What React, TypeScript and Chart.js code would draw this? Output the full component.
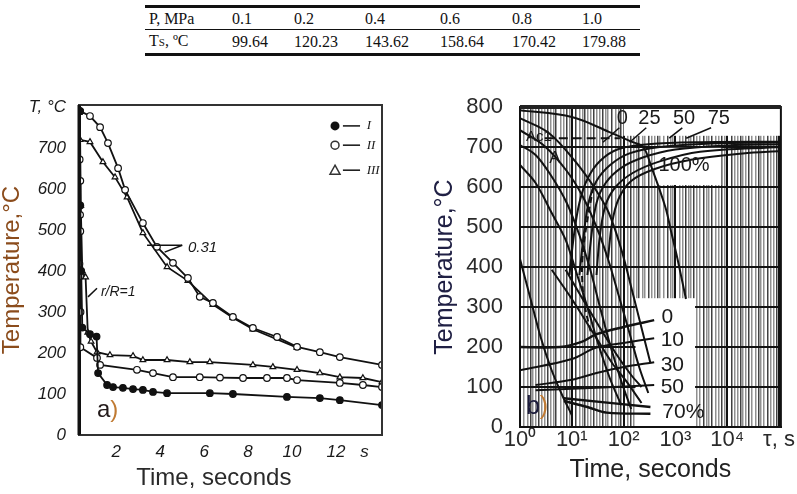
import React, { useEffect, useRef } from "react";
import { Chart, registerables } from "chart.js";
Chart.register(...registerables);

const SANS = "'Liberation Sans', Arial, Helvetica, sans-serif";
const SERIF = "'Liberation Serif', 'Times New Roman', serif";

// ---------------- table ----------------
const pressureLabels = ["0.1", "0.2", "0.4", "0.6", "0.8", "1.0"];
const saturationTemps = ["99.64", "120.23", "143.62", "158.64", "170.42", "179.88"];

// ---------------- chart a) ----------------
const leftYTicks = [0, 100, 200, 300, 400, 500, 600, 700, 800];
const leftYTickLabels = ["0", "100", "200", "300", "400", "500", "600", "700", "T, °C"];
const leftXTicks = [2, 4, 6, 8, 10, 12, 13.3];
const leftXTickLabels = ["2", "4", "6", "8", "10", "12", "s"];

// inner layer r/R = 0.31
const innerII: [number, number][] = [
  [0.35, 790], [0.8, 778], [1.26, 751], [1.62, 712], [2.08, 651], [2.4, 598], [3.21, 517],
  [3.85, 459], [4.58, 420], [5.26, 383], [5.8, 337], [6.4, 322], [7.31, 288], [8.22, 261],
  [9.32, 239], [10.23, 215], [11.27, 202], [12.18, 190], [14.1, 171],
];
const innerIII: [number, number][] = [
  [0.35, 720], [0.8, 715], [1.39, 666], [1.94, 629], [2.49, 580], [3.21, 493], [4.31, 410],
  [5.26, 376], [6.4, 318], [7.31, 286], [8.22, 258], [10.23, 213],
];
// surface r/R = 1
const surfaceI: [number, number][] = [
  [0.33, 790], [0.36, 560], [0.4, 400], [0.45, 262], [0.8, 246], [1.1, 240], [1.17, 151],
  [1.58, 122], [1.85, 117], [2.3, 115], [2.76, 112], [3.21, 110], [3.67, 105], [4.31, 102],
  [6.26, 102], [7.31, 100], [9.77, 93], [11.27, 90], [12.18, 85], [14.1, 73],
];
const surfaceII: [number, number][] = [
  [0.35, 790], [0.33, 672], [0.36, 620], [0.35, 537], [0.36, 497], [0.32, 418], [0.35, 388],
  [0.37, 300], [0.36, 214], [1.12, 188], [1.26, 171], [2.94, 159], [3.67, 151], [4.58, 141],
  [5.8, 141], [6.72, 140], [7.77, 139], [8.86, 139], [9.77, 139], [10.23, 134], [12.18, 127],
  [13.23, 122], [14.1, 117],
];
const surfaceIII: [number, number][] = [
  [0.34, 790], [0.38, 560], [0.45, 400], [0.6, 385], [0.7, 250], [0.85, 228], [1.12, 202],
  [1.71, 195], [2.76, 193], [3.21, 183], [4.31, 183], [5.35, 178], [6.26, 178], [8.22, 171],
  [9.13, 166], [10.23, 159], [11.27, 151], [12.18, 141], [13.23, 139], [14.1, 129],
];

// ---------------- chart b) ----------------
const rightYTicks = [0, 100, 200, 300, 400, 500, 600, 700, 800];
const rightDecades = [1, 10, 100, 1000, 10000];
const rightGridMultipliers = [1, 1.2, 1.4, 1.6, 1.8, 2, 2.3, 2.6, 3, 3.5, 4, 4.5, 5, 6, 7, 8, 9];
const rightXLabelValues = [1, 10, 100, 1000, 10000, 100000];
const rightXLabelTexts = ["10⁰", "10¹", "10²", "10³", "10⁴", "τ, s"];

const cooling1: [number, number][] = [[1, 792], [10, 775], [52, 738], [150, 712], [240, 700], [345, 650], [640, 550], [840, 485], [1100, 420], [1600, 320]];
const cooling2: [number, number][] = [[1, 772], [3.6, 735], [12, 662], [29, 593], [52, 535], [90, 445], [150, 335], [230, 240], [330, 160]];
const cooling3: [number, number][] = [[1, 742], [3, 702], [8, 640], [16, 578], [30, 500], [50, 420], [80, 330], [130, 235], [200, 150], [300, 85]];
const cooling4: [number, number][] = [[1, 705], [2, 680], [4, 628], [8, 560], [14, 480], [22, 400], [35, 300], [55, 205], [90, 115], [140, 45]];
const cooling5: [number, number][] = [[1, 655], [2, 610], [4.1, 535], [7.6, 468], [12, 390], [20, 300], [32, 210], [55, 120], [90, 55]];
const cooling6: [number, number][] = [[1, 420], [1.6, 320], [2.5, 225], [4, 145], [6.5, 80], [10, 30]];
const cooling7: [number, number][] = [[4.1, 393], [10, 320], [29, 225], [60, 160], [109, 117], [222, 60]];
const cooling8: [number, number][] = [[7.6, 393], [20, 300], [70, 185], [140, 130], [222, 100]];

const start0: [number, number][] = [[9, 380], [11, 480], [14, 560], [20, 620], [35, 665], [80, 695], [300, 707], [3000, 712], [110000, 713]];
const start25: [number, number][] = [[14, 380], [17, 480], [21, 560], [30, 615], [55, 655], [130, 684], [500, 700], [5000, 709], [110000, 711]];
const start50: [number, number][] = [[20, 380], [24, 480], [30, 560], [45, 610], [90, 648], [250, 675], [1000, 694], [10000, 704], [110000, 707]];
const start75: [number, number][] = [[30, 380], [35, 480], [45, 555], [70, 600], [150, 635], [500, 664], [3000, 688], [110000, 700]];
const finish100: [number, number][] = [[50, 420], [60, 510], [80, 570], [140, 615], [400, 645], [2000, 668], [20000, 684], [110000, 690]];
const dashedCurve: [number, number][] = [[26, 600], [19, 500], [16, 420], [16, 360], [18, 300], [24, 230]];
const ac1Line: [number, number][] = [[3, 722], [85, 722]];

const mart0: [number, number][] = [[1, 200], [6, 200], [15, 212], [30, 232], [100, 250], [390, 267]];
const mart10: [number, number][] = [[1, 142], [10, 170], [29, 198], [100, 210], [390, 222]];
const mart30: [number, number][] = [[2, 105], [10, 118], [30, 135], [100, 150], [390, 162]];
const mart50: [number, number][] = [[2, 92], [30, 98], [390, 105]];
const mart70a: [number, number][] = [[7, 72], [330, 50]];
const mart70b: [number, number][] = [[7, 65], [20, 50], [47, 36], [330, 33]];

// ---------------- helpers ----------------
const pts = (a: [number, number][]) => a.map(([x, y]) => ({ x, y }));

type Note = { text: string; x: number; y: number; size: number; align?: CanvasTextAlign; italic?: boolean; color?: string; family?: string };
type Seg = [number, number, number, number];
type Box = [number, number, number, number];

function drawNotes(chart: any, notes: Note[]) {
  const { ctx, scales } = chart;
  ctx.save();
  ctx.textBaseline = "middle";
  for (const n of notes) {
    ctx.font = `${n.italic ? "italic " : ""}${n.size}px ${n.family || SANS}`;
    ctx.fillStyle = n.color || "#1a1a1a";
    ctx.textAlign = n.align || "left";
    ctx.fillText(n.text, scales.x.getPixelForValue(n.x), scales.y.getPixelForValue(n.y));
  }
  ctx.restore();
}
function drawSegs(chart: any, segs: Seg[], width: number) {
  const { ctx, scales } = chart;
  ctx.save();
  ctx.strokeStyle = "#111";
  ctx.lineWidth = width;
  for (const [x1, y1, x2, y2] of segs) {
    ctx.beginPath();
    ctx.moveTo(scales.x.getPixelForValue(x1), scales.y.getPixelForValue(y1));
    ctx.lineTo(scales.x.getPixelForValue(x2), scales.y.getPixelForValue(y2));
    ctx.stroke();
  }
  ctx.restore();
}

// annotations for a)
const leftNotes: Note[] = [
  { text: "0.31", x: 5.26, y: 456, size: 15, italic: true },
  { text: "r/R=1", x: 1.3, y: 348, size: 14, italic: true },
  { text: "I", x: 13.4, y: 756, size: 13, italic: true, family: SERIF },
  { text: "II", x: 13.4, y: 707, size: 13, italic: true, family: SERIF },
  { text: "III", x: 13.4, y: 646, size: 13, italic: true, family: SERIF },
];
const leftLeaders: Seg[] = [
  [3.4, 463, 5.0, 463], [4.2, 446, 5.0, 463], [0.71, 337, 1.12, 358],
  [12.32, 754, 13.1, 754], [12.32, 707, 13.1, 707], [12.32, 646, 13.1, 646],
];

// annotations for b)
const rightNotes: Note[] = [
  { text: "Ac1", x: 1.3, y: 726, size: 15 },
  { text: "A", x: 4.7, y: 672, size: 17, align: "center" },
  { text: "0", x: 95, y: 772, size: 20, align: "center" },
  { text: "25", x: 316, y: 772, size: 20, align: "center" },
  { text: "50", x: 1470, y: 772, size: 20, align: "center" },
  { text: "75", x: 6900, y: 772, size: 20, align: "center" },
  { text: "100%", x: 1470, y: 655, size: 20, align: "center" },
  { text: "0", x: 540, y: 275, size: 21 },
  { text: "10", x: 520, y: 218, size: 21 },
  { text: "30", x: 520, y: 155, size: 21 },
  { text: "50", x: 520, y: 100, size: 21 },
  { text: "70%", x: 560, y: 38, size: 21 },
];
const rightLeaders: Seg[] = [
  [83, 748, 40, 712], [274, 748, 131, 712], [1360, 748, 760, 722], [4900, 748, 1620, 722],
];
const rightWhiteBoxes: Box[] = [
  [100, 728, 105000, 798], [400, 605, 7700, 698], [170, 2, 2400, 322],
];

function LeftChart() {
  const ref = useRef<HTMLCanvasElement>(null);
  useEffect(() => {
    const mk = (label: string, data: [number, number][], style: string, fill: string) => ({
      label, data: pts(data), borderColor: "#111", borderWidth: 1.8, pointStyle: style as any,
      pointRadius: 3.3, pointBorderWidth: 1.2, pointBackgroundColor: fill, pointBorderColor: "#111",
      tension: 0, showLine: true,
    });
    const annot = {
      id: "leftAnnot",
      afterDatasetsDraw(chart: any) {
        const { ctx, chartArea: a, scales } = chart;
        ctx.save();
        ctx.strokeStyle = "#333";
        ctx.lineWidth = 2;
        ctx.strokeRect(a.left, a.top, a.right - a.left, a.bottom - a.top);
        ctx.fillStyle = "#111";
        ctx.fillRect(a.left - 1.5, a.top, 3, a.bottom - a.top);
        const lx = scales.x.getPixelForValue(11.96);
        const y1 = scales.y.getPixelForValue(754), y2 = scales.y.getPixelForValue(707), y3 = scales.y.getPixelForValue(646);
        ctx.lineWidth = 1.5;
        ctx.beginPath(); ctx.arc(lx, y1, 4.5, 0, Math.PI * 2); ctx.fillStyle = "#111"; ctx.fill();
        ctx.beginPath(); ctx.arc(lx, y2, 4, 0, Math.PI * 2); ctx.fillStyle = "#fff"; ctx.fill(); ctx.stroke();
        ctx.beginPath(); ctx.moveTo(lx, y3 - 5); ctx.lineTo(lx + 5, y3 + 4); ctx.lineTo(lx - 5, y3 + 4); ctx.closePath(); ctx.fill(); ctx.stroke();
        ctx.restore();
        drawSegs(chart, leftLeaders, 1.5);
        drawNotes(chart, leftNotes);
        ctx.save();
        ctx.textBaseline = "middle";
        ctx.font = `24px ${SANS}`;
        const ax = scales.x.getPixelForValue(1.12), ay = scales.y.getPixelForValue(61);
        ctx.fillStyle = "#231a1a";
        ctx.fillText("a", ax, ay);
        const w = ctx.measureText("a").width;
        ctx.fillStyle = "#c07a32";
        ctx.fillText(")", ax + w, ay);
        ctx.restore();
      },
    };
    const chart = new Chart(ref.current!, {
      type: "line",
      data: {
        datasets: [
          mk("I r/R=1", surfaceI, "circle", "#111"),
          mk("II r/R=1", surfaceII, "circle", "#fff"),
          mk("III r/R=1", surfaceIII, "triangle", "#fff"),
          mk("II 0.31", innerII, "circle", "#fff"),
          mk("III 0.31", innerIII, "triangle", "#fff"),
        ],
      },
      options: {
        responsive: false,
        animation: false,
        layout: { padding: { left: 0, top: 45, right: 18, bottom: 0 } },
        plugins: { legend: { display: false }, tooltip: { enabled: false } },
        scales: {
          x: {
            type: "linear", min: 0.3, max: 14.1,
            afterFit: (s: any) => { s.height = 59; },
            afterBuildTicks: (s: any) => { s.ticks = leftXTicks.map((v) => ({ value: v })); },
            grid: { display: false, drawTicks: false },
            border: { display: true, color: "#111", width: 2 },
            ticks: {
              autoSkip: false, maxRotation: 0, padding: 9, color: "#1a1a1a",
              font: { family: SANS, size: 17, style: "italic", lineHeight: 1 },
              callback: (_v: any, i: number) => leftXTickLabels[i],
            },
            title: {
              display: true, text: "Time, seconds     ", color: "#2a2a2a",
              font: { family: SANS, size: 24, lineHeight: 1 }, padding: { top: 0, bottom: 4 },
            },
          },
          y: {
            type: "linear", min: 0, max: 805,
            afterFit: (s: any) => { s.width = 79; },
            afterBuildTicks: (s: any) => { s.ticks = leftYTicks.map((v) => ({ value: v })); },
            grid: { display: false, drawTicks: false },
            border: { display: true, color: "#111", width: 3 },
            ticks: {
              autoSkip: false, padding: 13, color: "#1a1a1a",
              font: { family: SANS, size: 17, style: "italic", lineHeight: 1 },
              callback: (_v: any, i: number) => leftYTickLabels[i],
            },
            title: {
              display: true, text: "Temperature,°C", color: "#8b4c1c",
              font: { family: SANS, size: 24, lineHeight: 1 }, padding: { top: 0, bottom: 0 },
            },
          },
        },
      },
      plugins: [annot],
    } as any);
    return () => chart.destroy();
  }, []);
  return <canvas ref={ref} width={400} height={434} style={{ display: "block" }} />;
}

function RightChart() {
  const ref = useRef<HTMLCanvasElement>(null);
  useEffect(() => {
    const ln = (label: string, data: [number, number][], dash?: number[], width = 2) => ({
      label, data: pts(data), borderColor: "#111", borderWidth: width, pointRadius: 0,
      tension: 0.35, borderDash: dash || [], showLine: true,
    });
    const gridTicks: number[] = [];
    rightDecades.forEach((d) => rightGridMultipliers.forEach((m) => gridTicks.push(d * m)));
    gridTicks.push(100000);
    const annot = {
      id: "rightAnnot",
      beforeDatasetsDraw(chart: any) {
        const { ctx, scales } = chart;
        ctx.save();
        ctx.fillStyle = "#fff";
        for (const [x1, y1, x2, y2] of rightWhiteBoxes) {
          const px1 = scales.x.getPixelForValue(x1), px2 = scales.x.getPixelForValue(x2);
          const py1 = scales.y.getPixelForValue(y1), py2 = scales.y.getPixelForValue(y2);
          ctx.fillRect(px1, py2, px2 - px1, py1 - py2);
        }
        ctx.restore();
      },
      afterDatasetsDraw(chart: any) {
        const { ctx, chartArea: a, scales } = chart;
        ctx.save();
        ctx.strokeStyle = "#111";
        ctx.lineWidth = 2;
        ctx.strokeRect(a.left, a.top, a.right - a.left, a.bottom - a.top);
        ctx.fillStyle = "#222";
        ctx.fillRect(a.left, a.top - 2, a.right - a.left, 4);
        ctx.restore();
        drawSegs(chart, rightLeaders, 1.5);
        drawNotes(chart, rightNotes);
        ctx.save();
        ctx.textBaseline = "middle";
        ctx.font = `25px ${SANS}`;
        const bx = scales.x.getPixelForValue(1.3), by = scales.y.getPixelForValue(50);
        ctx.fillStyle = "#1c1c3c";
        ctx.fillText("b", bx, by);
        const w = ctx.measureText("b").width;
        ctx.fillStyle = "#c07a32";
        ctx.fillText(")", bx + w, by);
        ctx.restore();
      },
    };
    const chart = new Chart(ref.current!, {
      type: "line",
      data: {
        datasets: [
          ln("cooling 1", cooling1), ln("cooling 2", cooling2), ln("cooling 3", cooling3),
          ln("cooling 4", cooling4), ln("cooling 5", cooling5), ln("cooling 6", cooling6),
          ln("cooling 7", cooling7), ln("cooling 8", cooling8),
          ln("0", start0), ln("25", start25), ln("50", start50), ln("75", start75),
          ln("100%", finish100), ln("dashed", dashedCurve, [6, 4]), ln("Ac1", ac1Line, [9, 5]),
          ln("M 0", mart0, undefined, 2.4), ln("M 10", mart10), ln("M 30", mart30),
          ln("M 50", mart50), ln("M 70a", mart70a, undefined, 2.4), ln("M 70b", mart70b, undefined, 2.4),
        ],
      },
      options: {
        responsive: false,
        animation: false,
        layout: { padding: { left: 0, top: 47, right: 14, bottom: 0 } },
        plugins: { legend: { display: false }, tooltip: { enabled: false } },
        scales: {
          x: {
            type: "logarithmic", min: 1, max: 109000,
            afterFit: (s: any) => { s.height = 67; },
            afterBuildTicks: (s: any) => { s.ticks = gridTicks.map((v) => ({ value: v })); },
            grid: {
              display: true, drawTicks: false,
              color: (c: any) => {
                const v = c.tick?.value;
                if (rightXLabelValues.includes(v)) return "#111";
                return c.index % 3 === 0 ? "rgba(30,30,30,0.85)" : "rgba(70,70,70,0.6)";
              },
              lineWidth: (c: any) => (rightXLabelValues.includes(c.tick?.value) ? 2 : 1.5),
            },
            border: { display: true, color: "#111", width: 2 },
            ticks: {
              autoSkip: false, maxRotation: 0, padding: 2, color: "#2a2a2a",
              font: { family: SANS, size: 22, lineHeight: 1 },
              callback: (v: any) => {
                const i = rightXLabelValues.indexOf(Number(v));
                return i >= 0 ? rightXLabelTexts[i] : "";
              },
            },
            title: {
              display: true, text: "Time, seconds", color: "#222",
              font: { family: SANS, size: 25, lineHeight: 1 }, padding: { top: 0, bottom: 11 },
            },
          },
          y: {
            type: "linear", min: 0, max: 800,
            afterFit: (s: any) => { s.width = 120; },
            afterBuildTicks: (s: any) => { s.ticks = rightYTicks.map((v) => ({ value: v })); },
            grid: { display: true, drawTicks: false, color: "#111", lineWidth: 2 },
            border: { display: true, color: "#111", width: 2 },
            ticks: {
              autoSkip: false, padding: 17, color: "#2a2a2a",
              font: { family: SANS, size: 22, lineHeight: 1 },
            },
            title: {
              display: true, text: "Temperature,°C", color: "#202044",
              font: { family: SANS, size: 25, lineHeight: 1 }, padding: { top: 33, bottom: 0 },
            },
          },
        },
      },
      plugins: [annot],
    } as any);
    return () => chart.destroy();
  }, []);
  return <canvas ref={ref} width={397} height={434} style={{ display: "block" }} />;
}

const cell: React.CSSProperties = { padding: "0 0 0 4px", textAlign: "left", height: 21, lineHeight: "21px", whiteSpace: "nowrap" };
const colWidths = [83, 62, 71, 75, 72, 70, 62];

export default function App() {
  useEffect(() => {
    document.body.style.margin = "0";
  }, []);
  return (
    <div style={{ position: "relative", width: 797, height: 494, background: "#fff", overflow: "hidden" }}>
      <table
        style={{
          position: "absolute", left: 145, top: 5, width: 495, borderCollapse: "collapse",
          fontFamily: SERIF, fontSize: 16, color: "#111", tableLayout: "fixed",
          borderTop: "3px solid #111", borderBottom: "3px solid #111",
        }}
      >
        <colgroup>
          {colWidths.map((w, i) => (
            <col key={i} style={{ width: w }} />
          ))}
        </colgroup>
        <tbody>
          <tr style={{ borderBottom: "1px solid #111" }}>
            <td style={cell}>P, MPa</td>
            {pressureLabels.map((p) => (
              <td key={p} style={cell}>{p}</td>
            ))}
          </tr>
          <tr>
            <td style={cell}>
              T<span style={{ fontSize: 11 }}>S</span>, ºC
            </td>
            {saturationTemps.map((t) => (
              <td key={t} style={cell}>{t}</td>
            ))}
          </tr>
        </tbody>
      </table>
      <div style={{ position: "absolute", left: 0, top: 60 }}>
        <LeftChart />
      </div>
      <div style={{ position: "absolute", left: 400, top: 60 }}>
        <RightChart />
      </div>
    </div>
  );
}
